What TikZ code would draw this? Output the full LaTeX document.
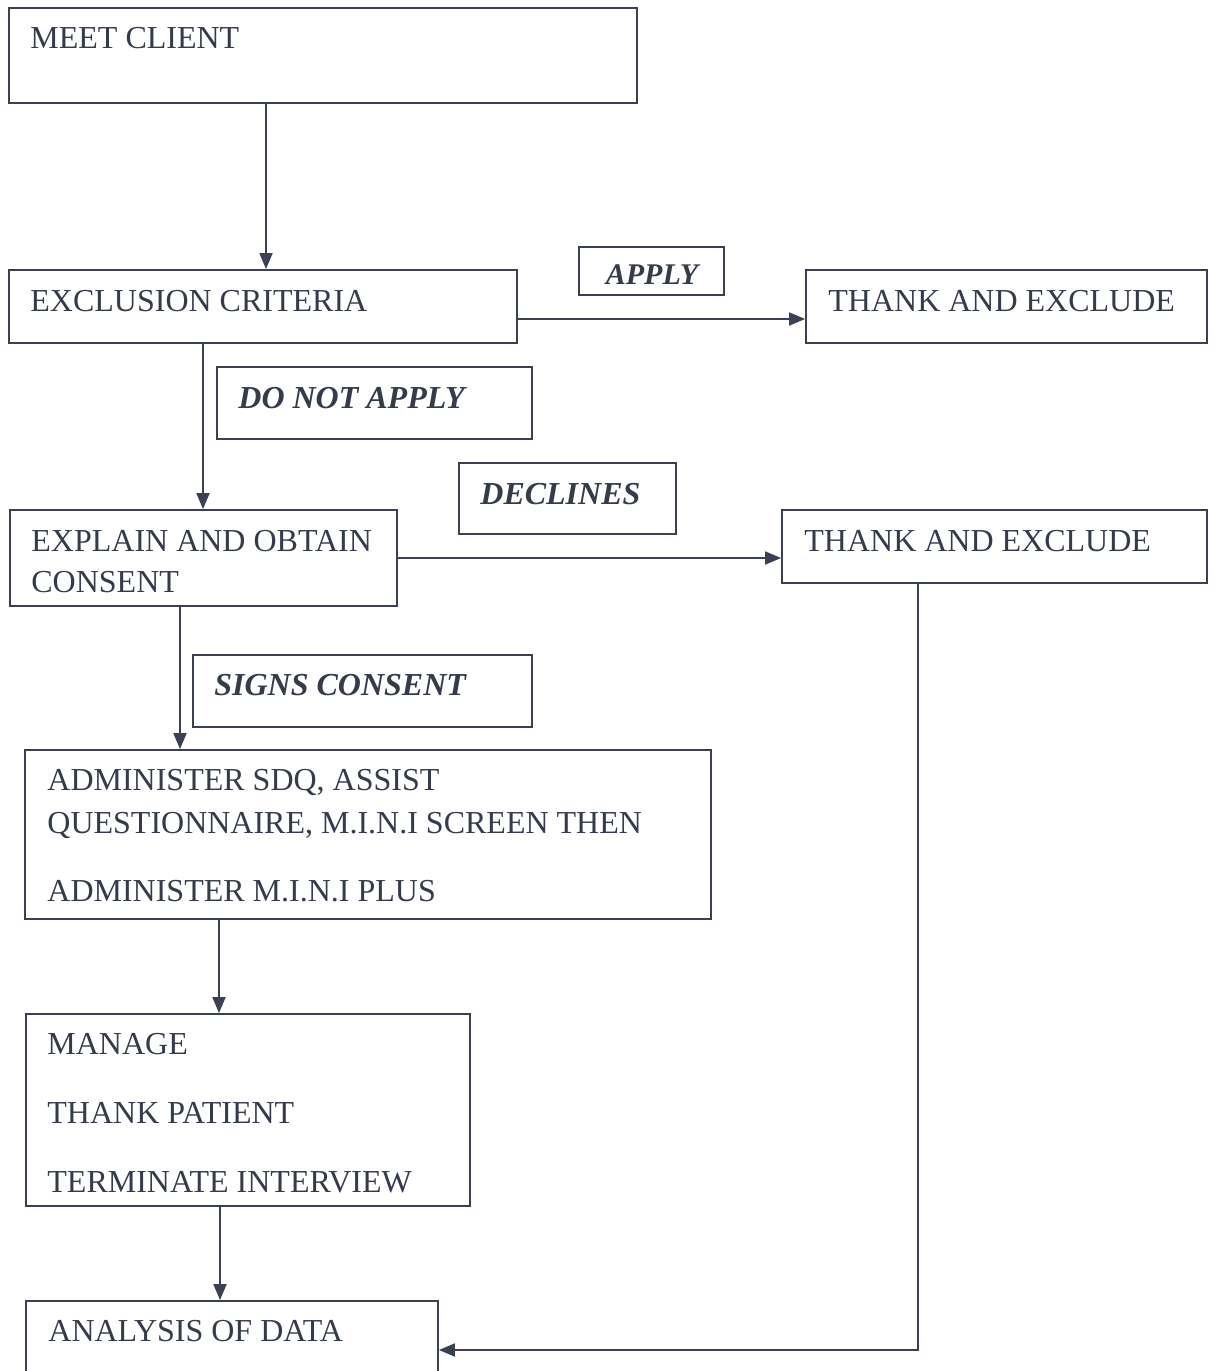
\documentclass[tikz,border=0pt]{standalone}
\usepackage{fontspec}
\setmainfont{Liberation Serif}
\usetikzlibrary{arrows.meta,fit}
\definecolor{ink}{HTML}{3A4152}
\definecolor{txt}{HTML}{343B4B}
\begin{document}
\begin{tikzpicture}[x=0.5pt,y=-0.5pt,
  box/.style={draw=ink,line width=0.9pt,inner sep=0pt},
  lbl/.style={anchor=base west,inner sep=0pt,text=txt,font=\fontsize{16}{20}\selectfont},
  tag/.style={anchor=base west,inner sep=0pt,text=txt,font=\fontsize{16}{20}\selectfont\bfseries\itshape},
  arr/.style={draw=ink,line width=0.9pt,-{Triangle[length=8pt,width=6.5pt]}}]
\useasboundingbox (0,0) rectangle (1215,1371);
\fill[white] (0,0) rectangle (1215,1371);
\clip (0,0) rectangle (1215,1371);
% boxes
\node[box,fit={(9,8) (637,103)}] (meet) {};
\node[box,fit={(9,270) (517,343)}] (excl) {};
\node[box,fit={(579,247) (724,295)}] (apply) {};
\node[box,fit={(806,270) (1207,343)}] (thank1) {};
\node[box,fit={(217,367) (532,439)}] (dna) {};
\node[box,fit={(459,463) (676,534)}] (decl) {};
\node[box,fit={(10,510) (397,606)}] (expl) {};
\node[box,fit={(782,510) (1207,583)}] (thank2) {};
\node[box,fit={(193,655) (532,727)}] (signs) {};
\node[box,fit={(25,750) (711,919)}] (admin) {};
\node[box,fit={(26,1014) (470,1206)}] (manage) {};
\node[box,fit={(26,1301) (438,1420)}] (anal) {};
% texts
\node[lbl] (t1) at (30,48) {MEET CLIENT};
\node[lbl] (t2) at (30,311) {EXCLUSION CRITERIA};
\node[tag,anchor=base,font=\fontsize{15}{18}\selectfont\bfseries\itshape] (t3) at (652,284) {APPLY};
\node[lbl] (t4) at (828,311) {THANK AND EXCLUDE};
\node[tag] (t5) at (238,408) {DO NOT APPLY};
\node[tag] (t6) at (480,504) {DECLINES};
\node[lbl] (t7) at (31,551) {EXPLAIN AND OBTAIN};
\node[lbl] (t8) at (31,592) {CONSENT};
\node[lbl] (t9) at (804,551) {THANK AND EXCLUDE};
\node[tag] (t10) at (214,695) {SIGNS CONSENT};
\node[lbl] (t11) at (47,790) {ADMINISTER SDQ, ASSIST};
\node[lbl] (t12) at (47,833) {QUESTIONNAIRE, M.I.N.I SCREEN THEN};
\node[lbl] (t13) at (47,901) {ADMINISTER M.I.N.I PLUS};
\node[lbl] (t14) at (47,1054) {MANAGE};
\node[lbl] (t15) at (47,1123) {THANK PATIENT};
\node[lbl] (t16) at (47,1192) {TERMINATE INTERVIEW};
\node[lbl] (t17) at (48,1341) {ANALYSIS OF DATA};
% connector guides
\coordinate (xa) at (266,0);
\coordinate (xb) at (203,0);
\coordinate (xc) at (180,0);
\coordinate (xd) at (219,0);
\coordinate (xe) at (220,0);
\coordinate (xf) at (918,0);
\coordinate (ya) at (0,319);
\coordinate (yb) at (0,558);
\coordinate (yc) at (0,1350);
% connectors
\draw[arr] (meet.south -| xa) -- (excl.north -| xa);
\draw[arr] (excl.east |- ya) -- (thank1.west |- ya);
\draw[arr] (excl.south -| xb) -- (expl.north -| xb);
\draw[arr] (expl.east |- yb) -- (thank2.west |- yb);
\draw[arr] (expl.south -| xc) -- (admin.north -| xc);
\draw[arr] (admin.south -| xd) -- (manage.north -| xd);
\draw[arr] (manage.south -| xe) -- (anal.north -| xe);
\draw[arr] (thank2.south -| xf) |- (anal.east |- yc);
\end{tikzpicture}
\end{document}
